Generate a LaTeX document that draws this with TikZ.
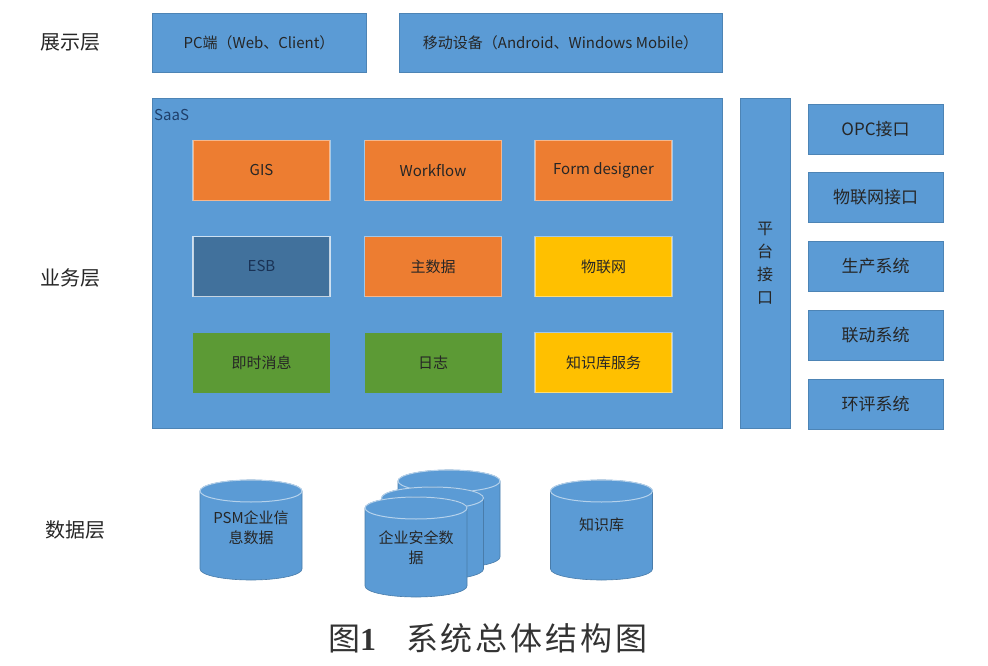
\documentclass[tikz,border=0pt]{standalone}
\usepackage{fontspec}
\setmainfont{Noto Sans CJK SC}
\newfontfamily\numfont{Liberation Serif}

\definecolor{saasblue}{HTML}{5B9BD5}
\definecolor{modorange}{HTML}{ED7D31}
\definecolor{esbblue}{HTML}{41719C}
\definecolor{modyellow}{HTML}{FFC000}
\definecolor{modgreen}{HTML}{5C9A35}
\definecolor{saasdark}{HTML}{1F3F6A}

\tikzset{
  layerlabel/.style={font=\fontsize{20}{24}\selectfont, text=black!85},
  bluebox/.style={fill=saasblue, draw=saasblue!85!black, line width=0.6pt,
    inner sep=0pt, font=\fontsize{15}{18}\selectfont, text=black!85},
  modbox/.style={minimum width=137pt, minimum height=60pt, inner sep=0pt,
    draw=white, draw opacity=0.45, line width=1.2pt,
    font=\fontsize{15}{18}\selectfont, text=black!85},
  sidebox/.style={bluebox, minimum width=135pt, minimum height=50pt,
    font=\fontsize{17}{20}\selectfont},
  dbbody/.style={fill=saasblue, draw=saasblue!80!black, line width=0.6pt},
  dbrim/.style={draw=saasblue!45!white, line width=1pt},
  dbtext/.style={align=center, font=\fontsize{15}{20}\selectfont, text=black!85}
}

% cylinder: centre x, top, bottom
\newcommand{\dbcyl}[3]{%
  \filldraw[dbbody] (#1-51,#2+11) -- (#1-51,#3-11)
    arc[start angle=180, end angle=0, x radius=51, y radius=11]
    -- (#1+51,#2+11)
    arc[start angle=0, end angle=-180, x radius=51, y radius=11] -- cycle;
  \draw[dbrim] (#1,#2+11) ellipse[x radius=51, y radius=11];}

\begin{document}
\begin{tikzpicture}[x=1pt,y=-1pt]

\useasboundingbox (0,0) rectangle (988,666);

% layer names
\node[layerlabel] (show) at (70,42) {展示层};
\node[layerlabel] (biz) at (70,278) {业务层};
\node[layerlabel] (data) at (75,530) {数据层};

% presentation layer
\node[bluebox, minimum width=214pt, minimum height=59pt] (pc) at (259,42.5) {PC端（Web、Client）};
\node[bluebox, minimum width=323pt, minimum height=59pt] (mobile) at (560.5,42.5) {移动设备（Android、Windows Mobile）};

% business layer
\node[bluebox, minimum width=570pt, minimum height=330pt] (saas) at (437,263) {};
\node[anchor=west, inner sep=0pt, font=\fontsize{15}{17}\selectfont, text=saasdark] (saaslbl) at (154,115) {SaaS};

\node[modbox, fill=modorange] (gis) at (261.5,170.5) {GIS};
\node[modbox, fill=modorange] (flow) at (433,170.5) {Workflow};
\node[modbox, fill=modorange] (form) at (603.5,170.5) {Form designer};

\node[modbox, fill=esbblue, text=saasdark!80!black, draw opacity=0.7] (esb) at (261.5,266.5) {ESB};
\node[modbox, fill=modorange] (master) at (433,266.5) {主数据};
\node[modbox, fill=modyellow] (iot) at (603.5,266.5) {物联网};

\node[modbox, fill=modgreen, draw opacity=0] (msg) at (261.5,362.5) {即时消息};
\node[modbox, fill=modgreen, draw opacity=0] (log) at (433,362.5) {日志};
\node[modbox, fill=modyellow] (kbs) at (603.5,362.5) {知识库服务};

\node[bluebox, minimum width=50pt, minimum height=330pt, align=center,
  font=\fontsize{16}{23}\selectfont] (plat) at (765,263) {平\\台\\接\\口};

\node[sidebox] (opc) at (875.5,129.5) {OPC接口};
\node[sidebox] (iotif) at (875.5,197) {物联网接口};
\node[sidebox] (prod) at (875.5,266) {生产系统};
\node[sidebox] (link) at (875.5,335) {联动系统};
\node[sidebox] (env) at (875.5,404) {环评系统};

% data layer
\dbcyl{251}{480}{580}
\node[dbtext] (psm) at (251,528) {PSM企业信\\息数据};

\dbcyl{449}{470}{568}
\dbcyl{432.5}{487}{580}
\dbcyl{416}{497}{597}
\node[dbtext] (safe) at (416,548) {企业安全数\\据};

\dbcyl{601.5}{480}{580}
\node[dbtext] (kb) at (601.5,525) {知识库};

% caption
\node[font=\fontsize{32}{36}\selectfont, text=black!80] (cap) at (488,638)
  {图{\numfont\bfseries 1}\hspace{30pt}系\kern3pt 统\kern3pt 总\kern3pt 体\kern3pt 结\kern3pt 构\kern3pt 图};

\end{tikzpicture}
\end{document}
